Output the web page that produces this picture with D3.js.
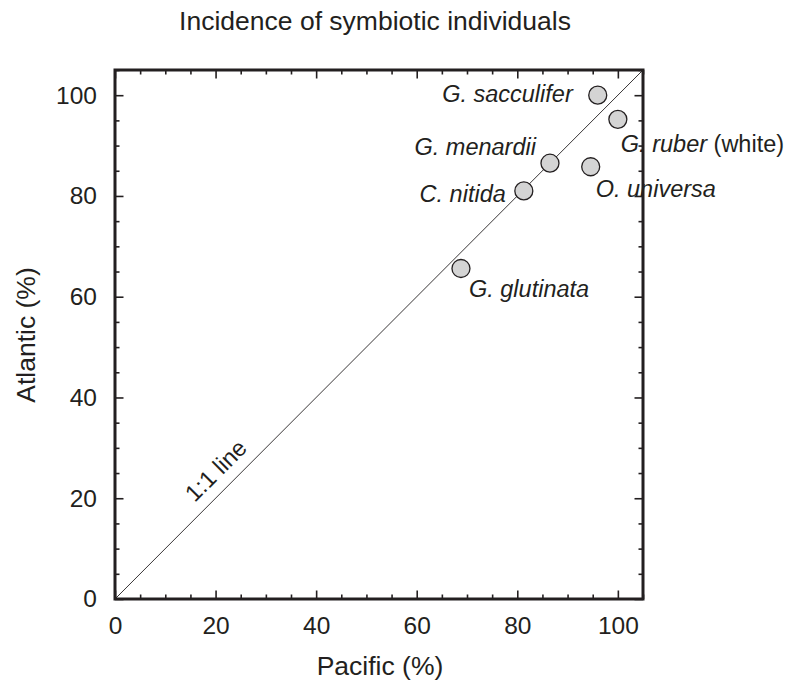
<!DOCTYPE html>
<html><head><meta charset="utf-8">
<script src="https://cdn.jsdelivr.net/npm/d3@7"></script>
<style>body{margin:0;background:#fff;} text{font-family:"Liberation Sans",Arial,Helvetica,sans-serif;fill:#231f20;}</style>
</head><body>
<svg id="c" width="791" height="687"></svg>
<script>
const species = ["G. sacculifer","G. ruber","G. menardii","O. universa","C. nitida","G. glutinata"];
const suffixes = ["","(white)","","","",""];
const pacific = [96, 100, 86.5, 94.6, 81.3, 68.8];
const atlantic = [100, 95.2, 86.5, 85.8, 81, 65.6];
const majorTicks = [0,20,40,60,80,100];
const minorTicks = d3.range(0,106,5);

const svg = d3.select("#c");
const L=115, R=643, T=70, B=599;
const x = d3.scaleLinear().domain([0,105]).range([L,R]);
const y = d3.scaleLinear().domain([0,105]).range([B,T]);
const ink = "#231f20";

// 1:1 line
svg.append("line").attr("x1",x(0)).attr("y1",y(0)).attr("x2",x(105)).attr("y2",y(105))
  .attr("stroke",ink).attr("stroke-width",0.9);

// axes with inward ticks
function addAxis(axisFn, scale, transform, labels){
  const gMinor = svg.append("g").attr("transform",transform)
    .call(axisFn(scale).tickValues(minorTicks.filter(v=>v%20!==0)).tickSize(-4.5).tickFormat(""));
  const gMajor = svg.append("g").attr("transform",transform)
    .call(axisFn(scale).tickValues(majorTicks).tickSize(-8.5).tickPadding(18).tickFormat(labels?d3.format("d"):""));
  [gMinor,gMajor].forEach(g=>{
    g.select(".domain").remove();
    g.selectAll(".tick line").attr("stroke",ink).attr("stroke-width",1.6);
    g.selectAll(".tick text").attr("font-size",24.5).attr("fill",ink).attr("font-family",'"Liberation Sans",Arial,sans-serif');
  });
}
addAxis(d3.axisBottom, x, `translate(0,${B})`, true);
addAxis(d3.axisTop, x, `translate(0,${T})`, false);
addAxis(d3.axisLeft, y, `translate(${L},0)`, true);
addAxis(d3.axisRight, y, `translate(${R},0)`, false);

svg.append("rect").attr("x",L).attr("y",T).attr("width",R-L).attr("height",B-T)
  .attr("fill","none").attr("stroke",ink).attr("stroke-width",3);

// points
svg.selectAll("circle.pt").data(species).join("circle").attr("class","pt")
  .attr("cx",(d,i)=>x(pacific[i])).attr("cy",(d,i)=>y(atlantic[i])).attr("r",9)
  .attr("fill","#d4d4d4").attr("stroke",ink).attr("stroke-width",1.3);

// labels: [dx, dy, anchor]
const labelPos = [[-25,7,"end"],[3,33,"start"],[-14,-8,"end"],[5,30,"start"],[-18,11,"end"],[8,28,"start"]];
species.forEach((s,i)=>{
  const t = svg.append("text").attr("x",x(pacific[i])+labelPos[i][0]).attr("y",y(atlantic[i])+labelPos[i][1])
    .attr("text-anchor",labelPos[i][2]).attr("font-size",23.5);
  t.append("tspan").attr("font-style","italic").text(s);
  if(suffixes[i]) t.append("tspan").text(" "+suffixes[i]);
});

// 1:1 line label
svg.append("text").attr("transform",`translate(${x(20)+6},${y(20)-22}) rotate(-45)`)
  .attr("text-anchor","middle").attr("font-size",23.5).text("1:1 line");

// titles
svg.append("text").attr("x",375).attr("y",30).attr("text-anchor","middle").attr("font-size",26.5).text("Incidence of symbiotic individuals");
svg.append("text").attr("x",380).attr("y",675).attr("text-anchor","middle").attr("font-size",26.5).text("Pacific (%)");
svg.append("text").attr("transform","translate(35,335) rotate(-90)").attr("text-anchor","middle").attr("font-size",26.5).text("Atlantic (%)");
</script>
</body></html>
